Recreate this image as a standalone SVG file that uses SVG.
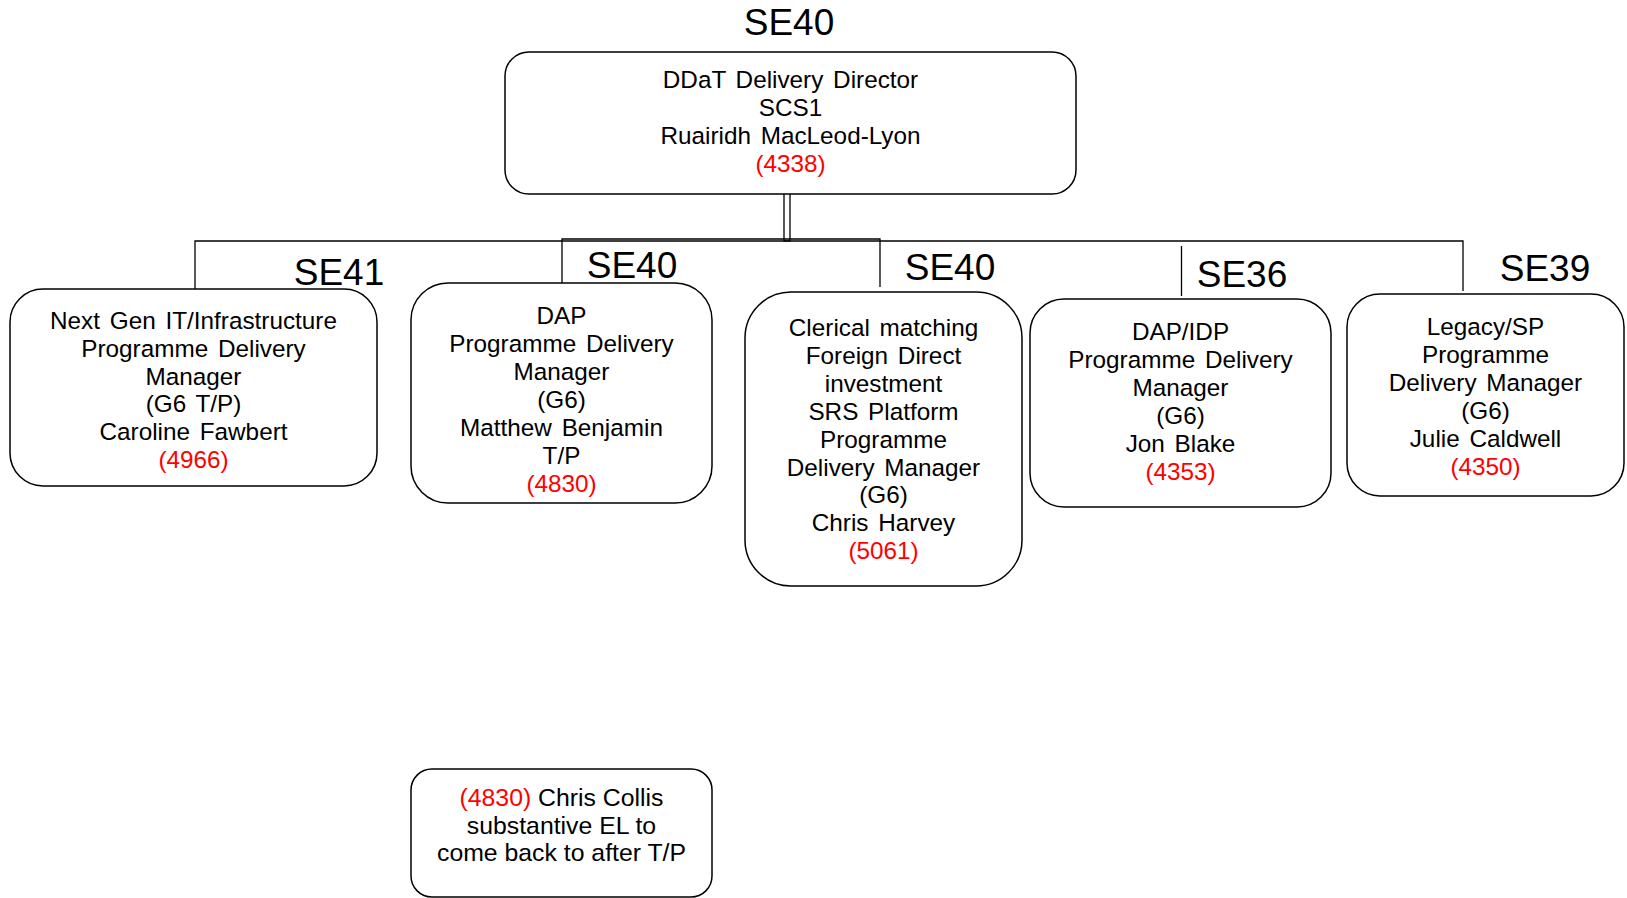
<svg xmlns="http://www.w3.org/2000/svg" width="1627" height="898" viewBox="0 0 1627 898">
<style>
.box{fill:#fff;stroke:#000;stroke-width:1.5}
.t{font-family:"Liberation Sans",Arial,sans-serif;font-size:24.3px;fill:#000;text-anchor:middle;word-spacing:3px}
.n{word-spacing:0;font-size:24.8px}
.r{fill:#f00}
.se{font-family:"Liberation Sans",Arial,sans-serif;font-size:37px;fill:#000;text-anchor:middle}
.c{fill:none;stroke:#000;stroke-width:1.3}
</style>
<rect width="1627" height="898" fill="#fff"/>
<g id="connectors">
<rect class="c" x="784" y="191" width="6" height="50"/>
<path class="c" d="M195,289 V241 H1463 V291"/>
<path class="c" d="M562,283 V239 H880 V287"/>
<path class="c" d="M1181.5,246 V296"/>
</g>
<g id="n-top">
<text class="se" x="789" y="35">SE40</text>
<rect class="box" x="505" y="52" width="571" height="142" rx="24"/>
<text class="t" x="790.5" y="88">DDaT Delivery Director</text>
<text class="t" x="790.5" y="116">SCS1</text>
<text class="t" x="790.5" y="144">Ruairidh MacLeod-Lyon</text>
<text class="t r" x="790.5" y="172">(4338)</text>
</g>
<g id="n-nextgen">
<text class="se" x="339" y="285">SE41</text>
<rect class="box" x="10" y="289" width="367" height="197" rx="33"/>
<text class="t" x="193.5" y="329">Next Gen IT/Infrastructure</text>
<text class="t" x="193.5" y="356.8">Programme Delivery</text>
<text class="t" x="193.5" y="384.6">Manager</text>
<text class="t" x="193.5" y="412.4">(G6 T/P)</text>
<text class="t" x="193.5" y="440.2">Caroline Fawbert</text>
<text class="t r" x="193.5" y="468">(4966)</text>
</g>
<g id="n-dap">
<text class="se" x="632" y="278">SE40</text>
<rect class="box" x="411" y="283" width="301" height="220" rx="37"/>
<text class="t" x="561.5" y="323.5">DAP</text>
<text class="t" x="561.5" y="351.6">Programme Delivery</text>
<text class="t" x="561.5" y="379.7">Manager</text>
<text class="t" x="561.5" y="407.8">(G6)</text>
<text class="t" x="561.5" y="435.9">Matthew Benjamin</text>
<text class="t" x="561.5" y="464">T/P</text>
<text class="t r" x="561.5" y="492">(4830)</text>
</g>
<g id="n-clerical">
<text class="se" x="950" y="280">SE40</text>
<rect class="box" x="745" y="292" width="277" height="294" rx="46"/>
<text class="t" x="883.5" y="336">Clerical matching</text>
<text class="t" x="883.5" y="363.9">Foreign Direct</text>
<text class="t" x="883.5" y="391.8">investment</text>
<text class="t" x="883.5" y="419.7">SRS Platform</text>
<text class="t" x="883.5" y="447.6">Programme</text>
<text class="t" x="883.5" y="475.5">Delivery Manager</text>
<text class="t" x="883.5" y="503.4">(G6)</text>
<text class="t" x="883.5" y="531.3">Chris Harvey</text>
<text class="t r" x="883.5" y="559">(5061)</text>
</g>
<g id="n-dapidp">
<text class="se" x="1242" y="287">SE36</text>
<rect class="box" x="1030" y="299" width="301" height="208" rx="34"/>
<text class="t" x="1180.5" y="339.5">DAP/IDP</text>
<text class="t" x="1180.5" y="367.5">Programme Delivery</text>
<text class="t" x="1180.5" y="395.5">Manager</text>
<text class="t" x="1180.5" y="423.5">(G6)</text>
<text class="t" x="1180.5" y="451.5">Jon Blake</text>
<text class="t r" x="1180.5" y="479.5">(4353)</text>
</g>
<g id="n-legacy">
<text class="se" x="1545" y="281">SE39</text>
<rect class="box" x="1347" y="294" width="277" height="202" rx="33"/>
<text class="t" x="1485.5" y="334.5">Legacy/SP</text>
<text class="t" x="1485.5" y="362.5">Programme</text>
<text class="t" x="1485.5" y="390.5">Delivery Manager</text>
<text class="t" x="1485.5" y="418.5">(G6)</text>
<text class="t" x="1485.5" y="446.5">Julie Caldwell</text>
<text class="t r" x="1485.5" y="474.5">(4350)</text>
</g>
<g id="n-collis">
<rect class="box" x="411" y="769" width="301" height="128" rx="21"/>
<text class="t n" x="561.5" y="806"><tspan class="r">(4830)</tspan> Chris Collis</text>
<text class="t n" x="561.5" y="833.5">substantive EL to</text>
<text class="t n" x="561.5" y="861">come back to after T/P</text>
</g>
</svg>
